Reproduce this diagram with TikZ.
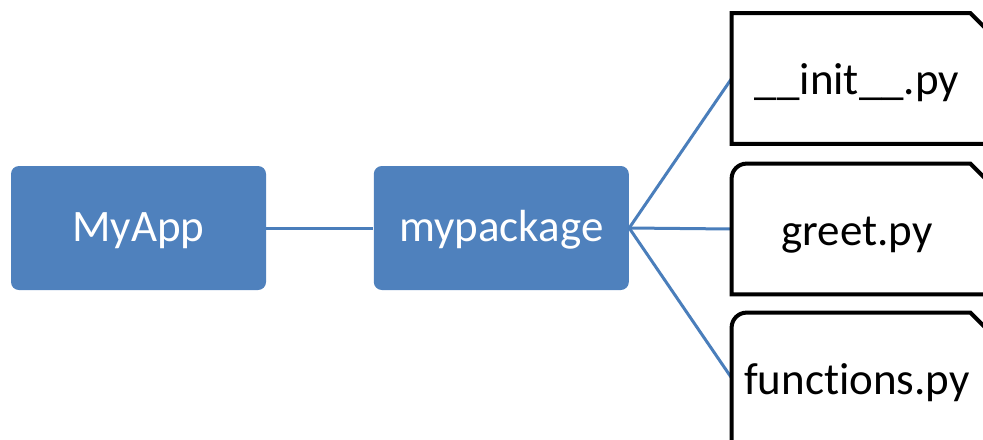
\documentclass[tikz,border=0pt]{standalone}
\usepackage{fontspec}
\setmainfont{Carlito}[Ligatures=NoCommon]
\usetikzlibrary{calc,positioning}
\definecolor{boxblue}{RGB}{79,129,189}
\definecolor{lineblue}{RGB}{74,126,187}

\begin{document}
\begin{tikzpicture}[x=0.5pt,y=-0.5pt,
  every node/.style={font=\fontsize{22.5}{27}\selectfont,inner sep=0pt},
  modbox/.style={fill=boxblue,text=white,rounded corners=4pt,minimum width=127.5pt,minimum height=62pt,text height=15pt,text depth=2pt},
  filebox/.style={minimum width=125pt,minimum height=65pt,text height=18pt,text depth=2pt},
  fileline/.style={draw=black,line width=2pt},
  link/.style={draw=lineblue,line width=1.5pt}]
\useasboundingbox (0,0) rectangle (983,439);
\clip (0,0) rectangle (983,439);
\node[modbox] (MyApp) at (138.5,228) {MyApp};
\node[modbox,right=53.5pt of MyApp] (MyPackage) {mypackage};
\node[filebox] (InitFile) at (857,78.5) {\_\_init\_\_.py};
\node[filebox] (GreetFile) at (857,229) {greet.py};
\node[filebox] (FuncFile) at (857,378) {functions.py};
\draw[link] (MyApp.east) -- (MyPackage.west);
\draw[link] (MyPackage.east) -- (InitFile.west);
\draw[link] (MyPackage.east) -- (GreetFile.west);
\draw[link] (MyPackage.east) -- (FuncFile.west);
\draw[fileline] ($(InitFile.south east)+(30,0)$) -- (InitFile.south west) -- (InitFile.north west) -- ($(InitFile.north east)+(-12,0)$) -- ($(InitFile.north east)+(18,30)$);
\draw[fileline] ($(GreetFile.south east)+(30,0)$) -- (GreetFile.south west) [rounded corners=7.5pt] -- (GreetFile.north west) [sharp corners] -- ($(GreetFile.north east)+(-12,0)$) -- ($(GreetFile.north east)+(18,30)$);
\draw[fileline] ($(FuncFile.south east)+(30,0)$) -- (FuncFile.south west) [rounded corners=7.5pt] -- (FuncFile.north west) [sharp corners] -- ($(FuncFile.north east)+(-12,0)$) -- ($(FuncFile.north east)+(18,30)$);
\end{tikzpicture}
\end{document}
